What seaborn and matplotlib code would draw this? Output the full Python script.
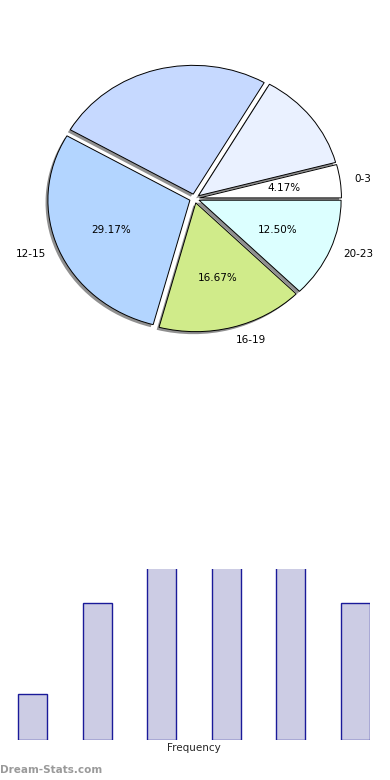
import matplotlib
matplotlib.use("Agg")
import matplotlib.pyplot as plt
import seaborn as sns
import pandas as pd

# ---- data ----
categories = ["0-3", "4-7", "8-11", "12-15", "16-19", "20-23"]
counts = [1, 3, 6, 7, 4, 3]
pie_labels = ["0-3", "", "", "12-15", "16-19", "20-23"]
show_pct = [True, False, False, True, True, True]
pie_colors = ["#ffffff", "#eaf1ff", "#c6d9ff", "#b3d5ff", "#d0eb8a", "#dcffff"]
explode = [0.035, 0.035, 0.035, 0.035, 0.035, 0.035]
bar_xlabel = "Frequency"
watermark = "Dream-Stats.com"

sns.set_style("white")
plt.rcParams["font.family"] = ["DejaVu Sans"]

fig = plt.figure(figsize=(3.9, 7.8), dpi=100)

# ---- pie ----
W, H = 390.0, 780.0
cx, cy = 194.5, 198.5
pw, ph = 355.0, 322.0
ax_pie = fig.add_axes([(cx - pw / 2) / W, 1 - (cy + ph / 2) / H, pw / W, ph / H])

pct_iter = iter(range(len(counts)))


def fmt_pct(p):
    i = next(pct_iter)
    return f"{p:.2f}%" if show_pct[i] else ""


wedges, texts, autotexts = ax_pie.pie(
    counts,
    labels=pie_labels,
    colors=pie_colors,
    explode=explode,
    autopct=fmt_pct,
    startangle=0,
    counterclock=True,
    shadow={"ox": -0.012, "oy": -0.014, "facecolor": "#8a8a8a",
            "edgecolor": "none", "alpha": 0.95},
    labeldistance=1.1,
    pctdistance=0.6,
    wedgeprops=dict(edgecolor="black", linewidth=0.7),
    textprops=dict(fontsize=7.5, color="black"),
)
ax_pie.set_aspect("auto")
ax_pie.set_xlim(-1.25, 1.25)
ax_pie.set_ylim(-1.25, 1.25)
ax_pie.axis("off")

# ---- bars ----
bl, br = 0.0, 370.0
bt, bb = 569.0, 740.0
ax_bar = fig.add_axes([bl / W, 1 - bb / H, (br - bl) / W, (bb - bt) / H])
df = pd.DataFrame({"cat": categories, "count": counts})
sns.barplot(
    data=df,
    x="cat",
    y="count",
    order=categories,
    color="#cccce4",
    saturation=1,
    width=0.45,
    edgecolor="#1a1a99",
    linewidth=1.0,
    ax=ax_bar,
)
ax_bar.set_xlim(-0.51, 5.225)
ax_bar.set_ylim(0, 3.74)
for s in ax_bar.spines.values():
    s.set_visible(False)
ax_bar.set_xticks([])
ax_bar.set_yticks([])
ax_bar.set_ylabel("")
ax_bar.set_xlabel(bar_xlabel, fontsize=7.5, labelpad=3)
ax_bar.xaxis.set_label_coords(194.0 / (br - bl), -0.015, transform=ax_bar.transAxes)
ax_bar.xaxis.label.set_verticalalignment("top")

fig.text(0.0, 1 - 770.0 / H, watermark, fontsize=7.5, fontweight="bold",
         color="#9a9a9a", ha="left", va="center")

fig.savefig("out.png", dpi=100)
